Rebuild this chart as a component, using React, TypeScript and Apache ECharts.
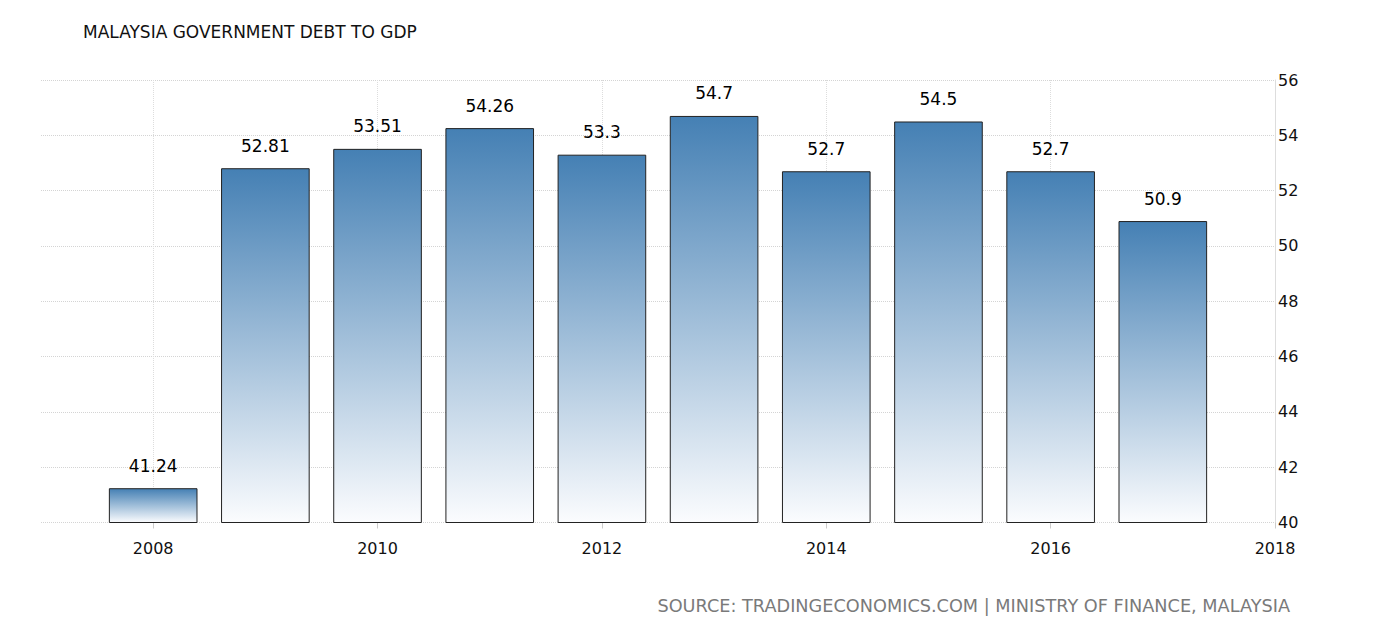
import React, { useEffect, useRef } from "react";
import * as echarts from "echarts";

const years = ["2007", "2008", "2009", "2010", "2011", "2012", "2013", "2014", "2015", "2016", "2017", "2018"];
const debtToGdp: (number | null)[] = [null, 41.24, 52.81, 53.51, 54.26, 53.3, 54.7, 52.7, 54.5, 52.7, 50.9, null];
const titleText = "MALAYSIA GOVERNMENT DEBT TO GDP";
const sourceText = "SOURCE: TRADINGECONOMICS.COM | MINISTRY OF FINANCE, MALAYSIA";

const isEvenYear = (i: number) => {
  const y = parseInt(years[i], 10);
  return y % 2 === 0;
};

export default function App() {
  const ref = useRef<HTMLDivElement>(null);
  useEffect(() => {
    if (!ref.current) return;
    const chart = echarts.init(ref.current, undefined, { renderer: "svg" });
    const font = "DejaVu Sans";
    chart.setOption({
      animation: false,
      backgroundColor: "#ffffff",
      title: {
        text: titleText,
        left: 83,
        top: 23,
        padding: 0,
        textStyle: { fontFamily: font, fontSize: 17, fontWeight: "normal", color: "#111111" },
      },
      graphic: [
        {
          type: "text",
          right: 84,
          top: 597,
          style: {
            text: sourceText,
            font: `17.7px "${font}"`,
            fill: "#7a7a7a",
          },
        },
      ],
      grid: { left: 41, right: 99, top: 80, bottom: 116.5, containLabel: false },
      xAxis: {
        type: "category",
        data: years,
        boundaryGap: false,
        axisLine: { show: false },
        axisTick: {
          show: true,
          length: 6,
          interval: (i: number) => isEvenYear(i),
          lineStyle: { color: "#cccccc" },
        },
        axisLabel: {
          interval: (i: number) => isEvenYear(i),
          margin: 18,
          fontFamily: font,
          fontSize: 16,
          color: "#111111",
        },
        splitLine: {
          show: true,
          interval: (i: number) => isEvenYear(i),
          lineStyle: { color: "#dddddd", type: "dotted", width: 1 },
        },
      },
      yAxis: {
        type: "value",
        position: "right",
        min: 40,
        max: 56,
        interval: 2,
        axisLine: { show: true, lineStyle: { color: "#dddddd", width: 1 } },
        axisTick: { show: false },
        axisLabel: { margin: 3, fontFamily: font, fontSize: 16, color: "#111111" },
        splitLine: { show: true, lineStyle: { color: "#d4d4d4", type: "dotted", width: 1 } },
      },
      series: [
        {
          type: "bar",
          data: debtToGdp,
          barWidth: "79%",
          itemStyle: {
            color: new echarts.graphic.LinearGradient(0, 0, 0, 1, [
              { offset: 0, color: "#4580b4" },
              { offset: 1, color: "#fbfcfe" },
            ]),
            borderColor: "#222222",
            borderWidth: 1,
          },
          label: {
            show: true,
            position: "top",
            distance: 14,
            fontFamily: font,
            fontSize: 17,
            color: "#000000",
          },
        },
      ],
    });
    return () => chart.dispose();
  }, []);
  return (
    <div
      ref={ref}
      style={{ position: "absolute", left: 0, top: 0, width: 1374, height: 639 }}
    />
  );
}
